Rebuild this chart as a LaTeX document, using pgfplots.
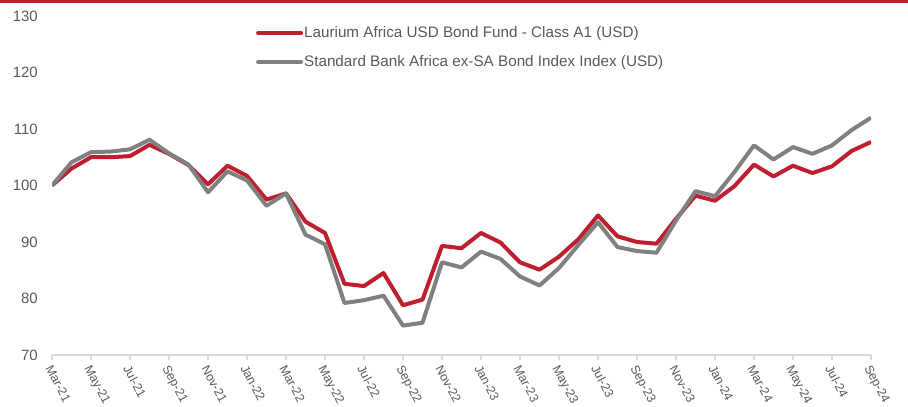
\documentclass[border=0pt]{standalone}
\usepackage{fontspec}
\setmainfont{Liberation Sans}
\usepackage{pgfplots}
\pgfplotsset{compat=1.18}
\definecolor{lred}{HTML}{BE1E2D}
\definecolor{lgray}{HTML}{808080}
\definecolor{axgray}{HTML}{D9D9D9}
\definecolor{txt}{HTML}{595959}
\begin{document}
\begin{tikzpicture}
\begin{axis}[name=ax, scale only axis, width=819bp, height=339bp,
 xmin=0, xmax=42, ymin=70, ymax=130,
 ytick={70,80,...,130},
 xtick={0,2,...,42},
 xticklabels={Mar-21,May-21,Jul-21,Sep-21,Nov-21,Jan-22,Mar-22,May-22,Jul-22,Sep-22,Nov-22,Jan-23,Mar-23,May-23,Jul-23,Sep-23,Nov-23,Jan-24,Mar-24,May-24,Jul-24,Sep-24},
 axis lines*=left,
 x axis line style={-, draw=axgray, line width=1.2bp},
 y axis line style={draw=none},
 ytick style={draw=none},
 xtick style={draw=axgray, line width=1.2bp},
 tick align=outside, major tick length=5bp,
 yticklabel style={font=\fontsize{15}{17}\selectfont, text=txt, anchor=east, inner sep=0pt, xshift=-9bp},
 xticklabel style={font=\fontsize{12.5}{15}\selectfont, text=txt, rotate=-62, anchor=north west, inner sep=1bp, xshift=3bp},
 /pgf/number format/assume math mode=true,
 legend style={draw=none, fill=none, at={(0.249,0.972)}, anchor=north west, inner sep=0pt,
   font=\fontsize{15.3}{18}\selectfont, text=txt, row sep=14.5bp,
   nodes={inner sep=1bp}},
 legend cell align=left,
 legend image code/.code={\draw[#1, line cap=round] (0bp,0bp) -- (43bp,0bp);},
]
\addplot[lred, line width=4bp, line join=round] coordinates {
(0,100) (1,103) (2,105) (3,105) (4,105.2) (5,107.2) (6,105.6) (7,103.6) (8,100.2) (9,103.5)
(10,101.7) (11,97.5) (12,98.6) (13,93.6) (14,91.6) (15,82.6) (16,82.2) (17,84.5) (18,78.8) (19,79.8)
(20,89.3) (21,88.9) (22,91.6) (23,89.9) (24,86.4) (25,85.1) (26,87.4) (27,90.5) (28,94.7) (29,91)
(30,90) (31,89.7) (32,94.1) (33,98.2) (34,97.3) (35,99.9) (36,103.7) (37,101.6) (38,103.5) (39,102.2)
(40,103.4) (41,106.1) (42,107.7)};
\addlegendentry{Laurium Africa USD Bond Fund - Class A1 (USD)}
\addplot[lgray, line width=4bp, line join=round] coordinates {
(0,100) (1,104.1) (2,105.9) (3,106) (4,106.4) (5,108.1) (6,105.7) (7,103.7) (8,98.8) (9,102.5)
(10,100.9) (11,96.4) (12,98.6) (13,91.3) (14,89.6) (15,79.2) (16,79.7) (17,80.5) (18,75.2) (19,75.7)
(20,86.4) (21,85.5) (22,88.3) (23,87) (24,83.9) (25,82.3) (26,85.4) (27,89.5) (28,93.5) (29,89.1)
(30,88.4) (31,88.1) (32,93.8) (33,99) (34,98.1) (35,102.4) (36,107.1) (37,104.6) (38,106.8) (39,105.6)
(40,107.1) (41,109.8) (42,112)};
\addlegendentry{Standard Bank Africa ex-SA Bond Index Index (USD)}
\end{axis}
\pgfresetboundingbox
\path ([xshift=-52bp,yshift=-52bp]ax.south west) rectangle ([xshift=37bp,yshift=16bp]ax.north east);
\fill[lred] ([xshift=-52bp,yshift=16bp]ax.north west) rectangle ([xshift=37bp,yshift=12.5bp]ax.north east);
\end{tikzpicture}
\end{document}
